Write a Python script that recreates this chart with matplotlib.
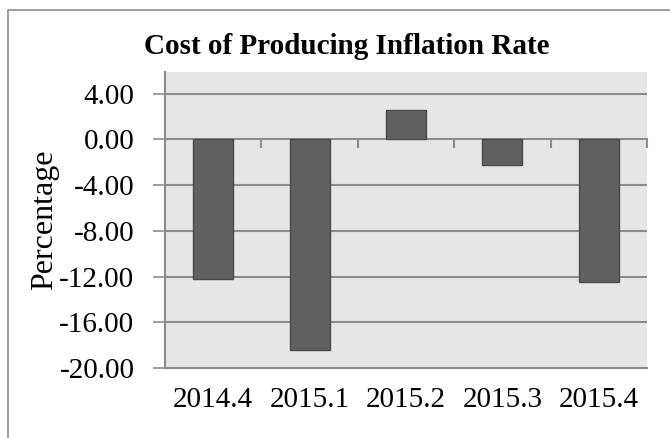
import matplotlib.pyplot as plt
from matplotlib.patches import Rectangle
import numpy as np

quarters = ['2014.4', '2015.1', '2015.2', '2015.3', '2015.4']
rates = [-12.2, -18.4, 2.6, -2.2, -12.5]
yticks = [4, 0, -4, -8, -12, -16, -20]

plt.rcParams['font.family'] = ['Liberation Serif', 'DejaVu Serif']

fig = plt.figure(figsize=(6.7, 4.38), dpi=100)
W, H = 670, 438
ax = fig.add_axes([165 / W, 1 - 368 / H, (647 - 165) / W, (368 - 72) / H])

# outer chart border (only top/left visible in the crop)
fig.patches.append(Rectangle((8 / W, -0.1), 1.2, 1 - 10 / H + 0.1,
                             transform=fig.transFigure, fill=False,
                             edgecolor='#8c8c8c', linewidth=1.2))

x = np.arange(len(quarters))
ax.set_facecolor('#e6e6e6')
for v in yticks:
    ax.axhline(v, color='#8c8c8c', linewidth=1.5, zorder=1)
ax.bar(x, rates, width=0.415, color='#606060', edgecolor='#4a4a4a',
       linewidth=1.0, zorder=3)

ax.set_xlim(-0.5, len(quarters) - 0.5)
ax.set_ylim(-20, 5.9)
ax.set_yticks(yticks)
ax.set_yticklabels([f'{v:.2f}' for v in yticks], fontsize=21)
ax.tick_params(axis='y', length=9, width=1.2, color='#8c8c8c', pad=13)

ax.set_xticks(x)
ax.set_xticklabels(quarters, fontsize=21)
ax.tick_params(axis='x', length=0, pad=14)
# category separator ticks hanging from the zero line
for b in np.arange(0.5, len(quarters) + 0.5, 1.0):
    ax.plot([b, b], [0, -0.7], color='#8c8c8c', linewidth=1.5, zorder=2,
            clip_on=False)

for s in ['top', 'right']:
    ax.spines[s].set_visible(False)
ax.spines['left'].set_color('#8c8c8c')
ax.spines['left'].set_linewidth(1.5)
ax.spines['bottom'].set_color('#8c8c8c')
ax.spines['bottom'].set_linewidth(1.5)

fig.text(45 / W, 1 - 220 / H, 'Percentage', rotation=90,
         ha='center', va='center', fontsize=23)
fig.text(347 / W, 1 - 54 / H, 'Cost of Producing Inflation Rate',
         ha='center', va='baseline', fontsize=21, fontweight='bold')

fig.savefig('out.png', dpi=100)
